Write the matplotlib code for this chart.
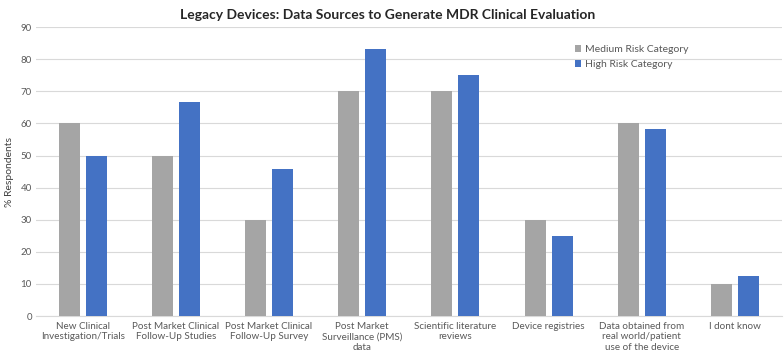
import numpy as np
import matplotlib
matplotlib.use('Agg')
import matplotlib.pyplot as plt

plt.rcParams['font.family'] = ['Lato', 'DejaVu Sans']

categories = ["New Clinical\nInvestigation/Trials", "Post Market Clinical\nFollow-Up Studies",
              "Post Market Clinical\nFollow-Up Survey", "Post Market\nSurveillance (PMS)\ndata",
              "Scientific literature\nreviews", "Device registries",
              "Data obtained from\nreal world/patient\nuse of the device", "I dont know"]
medium = [60, 50, 30, 70, 70, 30, 60, 10]
high = [50, 66.7, 45.8, 83.3, 75, 25, 58.3, 12.5]

fig = plt.figure(figsize=(7.84, 3.52), dpi=100)
ax = fig.add_axes([0.046, 0.102, 0.951, 0.821])

x = np.arange(len(categories))
w = 0.225
ax.bar(x - 0.145, medium, w, color='#A5A5A5', label='Medium Risk Category', zorder=3)
ax.bar(x + 0.145, high, w, color='#4472C4', label='High Risk Category', zorder=3)

ax.set_xlim(-0.5, len(categories) - 0.5)
ax.set_ylim(0, 90)
ax.set_yticks(range(0, 91, 10))
ax.yaxis.grid(True, color='#D9D9D9', linewidth=0.8, zorder=0)
for s in ['top', 'right', 'left']:
    ax.spines[s].set_visible(False)
ax.spines['bottom'].set_color('#D9D9D9')
ax.tick_params(axis='x', length=0, labelsize=7.1, colors='#595959', pad=4)
ax.tick_params(axis='y', length=0, labelsize=7, colors='#595959', pad=3)
ax.set_xticks(x)
ax.set_xticklabels(categories, linespacing=1.25)
ax.set_ylabel('% Respondents', fontsize=7.5, color='#404040')
ax.yaxis.set_label_coords(-0.03, 0.5)

fig.suptitle('Legacy Devices: Data Sources to Generate MDR Clinical Evaluation',
             x=0.495, y=0.975, fontsize=10, fontweight='bold', color='#262626')

leg = ax.legend(loc='upper left', bbox_to_anchor=(0.71, 0.97), frameon=False,
                fontsize=7.5, handlelength=0.6, handleheight=0.6, handletextpad=0.4,
                labelspacing=0.55)
for t in leg.get_texts():
    t.set_color('#595959')

plt.savefig('out.png', dpi=100)
